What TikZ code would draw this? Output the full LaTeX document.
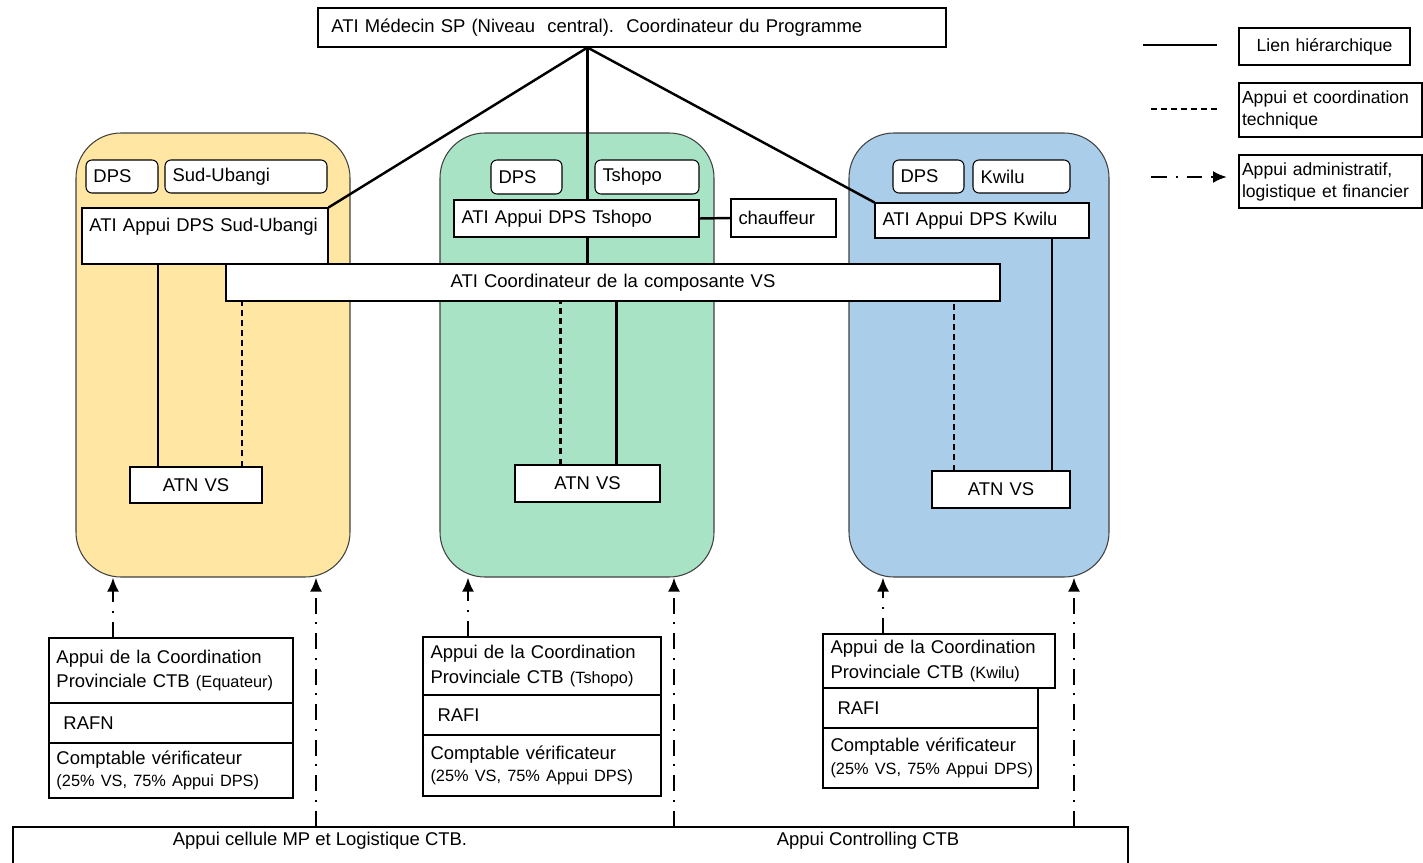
\documentclass[tikz,border=0pt]{standalone}
\usepackage{fontspec}
\setmainfont{Liberation Sans}
\usetikzlibrary{arrows.meta, calc}
\definecolor{ubangi}{HTML}{FFE6A2}
\definecolor{tshopo}{HTML}{A9E3C6}
\definecolor{kwilu}{HTML}{AACDE9}
\newcommand{\pad}{0.15cm}
\newcommand{\smalltxt}[1]{\mbox{\fontsize{9.3}{11.5}\selectfont #1}}
% box from (x1,y1) to (x2,y2), picture pixels
\newcommand{\pbox}[7][]{%
  \pgfmathsetlengthmacro{\boxw}{(#5-#3)*0.02cm-2*\pad}%
  \pgfmathsetlengthmacro{\boxh}{(#6-#4)*0.02cm}%
  \node[box, #1, text width=\boxw, minimum height=\boxh] (#2) at ({(#3+#5)/2},{(#4+#6)/2}) {#7};%
}
\tikzset{
    box/.style={draw, fill=white, line width=0.6pt, inner xsep=\pad, inner ysep=0pt,
      align=left, font=\fontsize{10.5}{12.8}\selectfont},
    tag/.style={box, rounded corners=0.12cm},
    prov/.style={draw=black!75, line width=0.6pt, rounded corners=0.9cm},
    legend/.style={font=\fontsize{10}{12.5}\selectfont},
    lbl/.style={font=\fontsize{10.5}{12.8}\selectfont},
    hier/.style={line width=1.4pt},
    tech/.style={line width=1.4pt, dash pattern=on 3.4pt off 2.3pt},
    admin/.style={line width=1.4pt, dash pattern=on 9pt off 5pt on 1.2pt off 5pt,
      -{Latex[length=2.8mm, width=2.4mm]}},
}

\begin{document}
\begin{tikzpicture}[x=0.02cm, y=-0.02cm]
    \useasboundingbox (0,0) rectangle (1423,862);

    % provinces
    \pbox[prov, fill=ubangi]{ubangi}{76}{133}{350}{577}{}
    \pbox[prov, fill=tshopo]{tshopo}{440}{133}{714}{577}{}
    \pbox[prov, fill=kwilu]{kwilu}{849}{133}{1109}{577}{}

    \pbox{central}{318}{8}{946}{47}{\hspace*{0.12cm}ATI Médecin SP (Niveau\ \ central).\ \ Coordinateur du Programme}
    \coordinate (hub) at ($(central.south west)+(270,0)$);

    \pbox[tag]{dpsU}{86}{160}{158}{193}{DPS}
    \pbox[tag]{nameU}{165}{160}{327}{193}{Sud-Ubangi}
    \pbox[tag]{dpsT}{491}{160}{562}{194}{DPS}
    \pbox[tag]{nameT}{595}{160}{699}{194}{Tshopo}
    \pbox[tag]{dpsK}{893}{160}{964}{193}{DPS}
    \pbox[tag]{nameK}{973}{160}{1070}{193}{Kwilu}

    \pbox{atiU}{82}{208}{328}{264}{ATI Appui DPS Sud-Ubangi\\~}
    \pbox{atiT}{454}{200}{699}{237}{ATI Appui DPS Tshopo}
    \pbox{chauffeur}{731}{199}{836}{237}{chauffeur}
    \pbox{atiK}{875}{203}{1089}{238}{ATI Appui DPS Kwilu}
    \pbox[align=center]{coordVS}{226}{264}{1000}{301}{ATI Coordinateur de la composante VS}

    \pbox[align=center]{atnU}{130}{467}{262}{503}{ATN VS}
    \pbox[align=center]{atnT}{515}{465}{660}{502}{ATN VS}
    \pbox[align=center]{atnK}{932}{471}{1070}{508}{ATN VS}

    % provincial support
    \pbox{cpU}{49}{638}{293}{703}{Appui de la Coordination\\[1pt]Provinciale CTB \smalltxt{(Equateur)}}
    \pbox{rafU}{49}{703}{293}{743}{\hspace*{0.14cm}RAFN}
    \pbox{cvU}{49}{743}{293}{798}{Comptable vérificateur\\\smalltxt{(25\% VS, 75\% Appui DPS)}}
    \pbox{cpT}{423}{637}{661}{695}{Appui de la Coordination\\[1pt]Provinciale CTB \smalltxt{(Tshopo)}}
    \pbox{rafT}{423}{695}{661}{735}{\hspace*{0.14cm}RAFI}
    \pbox{cvT}{423}{735}{661}{796}{Comptable vérificateur\\\smalltxt{(25\% VS, 75\% Appui DPS)}}
    \pbox{cpK}{823}{634}{1055}{688}{Appui de la Coordination\\[1pt]Provinciale CTB \smalltxt{(Kwilu)}}
    \pbox{rafK}{823}{688}{1038}{728}{\hspace*{0.14cm}RAFI}
    \pbox{cvK}{823}{728}{1038}{788}{Comptable vérificateur\\\smalltxt{(25\% VS, 75\% Appui DPS)}}

    \pbox{support}{13}{827}{1128}{880}{}
    \node[lbl] (mp) at (320,841) {Appui cellule MP et Logistique CTB.};
    \node[lbl] (ctrl) at (868,841) {Appui Controlling CTB};

    % legend
    \begin{scope}
      \renewcommand{\pad}{0.06cm}
      \pbox[legend, align=center]{legH}{1239}{28}{1410}{65}{Lien hiérarchique}
      \pbox[legend]{legT}{1239}{83}{1422}{137}{Appui et coordination\\technique}
      \pbox[legend]{legA}{1239}{155}{1422}{208}{Appui administratif,\\logistique et financier}
    \end{scope}
    \coordinate (h0) at (1143,45);
    \coordinate (h1) at (1217,45);
    \coordinate (t0) at (1151,109);
    \coordinate (t1) at (1217,109);
    \coordinate (a0) at (1151,177);
    \coordinate (a1) at (1227,177);
    \draw[hier] (h0) -- (h1);
    \draw[tech] (t0) -- (t1);
    \draw[admin] (a0) -- (a1);

    % hierarchy
    \draw[hier] (hub) -- (atiU.north east);
    \draw[hier] (hub) -- (hub |- atiT.north);
    \draw[hier] (hub) -- (atiK.north west);
    \draw[hier] (atiT.south -| hub) -- (coordVS.north -| hub);
    \draw[hier] (atiT.east) -- (chauffeur.west);

    \draw[hier] ($(atnU.north)+(-38,0)$) coordinate (u0) -- (u0 |- atiU.south);
    \draw[tech] ($(atnU.north)+(46,0)$) coordinate (u1) -- (u1 |- coordVS.south);
    \draw[tech] ($(atnT.north)+(-27,0)$) coordinate (t2) -- (t2 |- coordVS.south);
    \draw[hier] ($(atnT.north)+(29,0)$) coordinate (t3) -- (t3 |- coordVS.south);
    \draw[tech] ($(atnK.north)+(-47,0)$) coordinate (k0) -- (k0 |- coordVS.south);
    \draw[hier] ($(atnK.north)+(51,0)$) coordinate (k1) -- (k1 |- atiK.south);

    % administrative support
    \draw[admin] ($(cpU.north)+(-58,0)$) coordinate (u2) -- (u2 |- ubangi.south);
    \draw[admin] ($(cpT.north)+(-74,0)$) coordinate (t4) -- (t4 |- tshopo.south);
    \draw[admin] ($(cpK.north)+(-56,0)$) coordinate (k2) -- (k2 |- kwilu.south);
    \coordinate (u3) at ($(ubangi.south)+(103,0)$);
    \coordinate (t5) at ($(tshopo.south)+(97,0)$);
    \coordinate (k3) at ($(kwilu.south)+(95,0)$);
    \draw[admin] (u3 |- support.north) -- (u3);
    \draw[admin] (t5 |- support.north) -- (t5);
    \draw[admin] (k3 |- support.north) -- (k3);

  \end{tikzpicture}
\end{document}
